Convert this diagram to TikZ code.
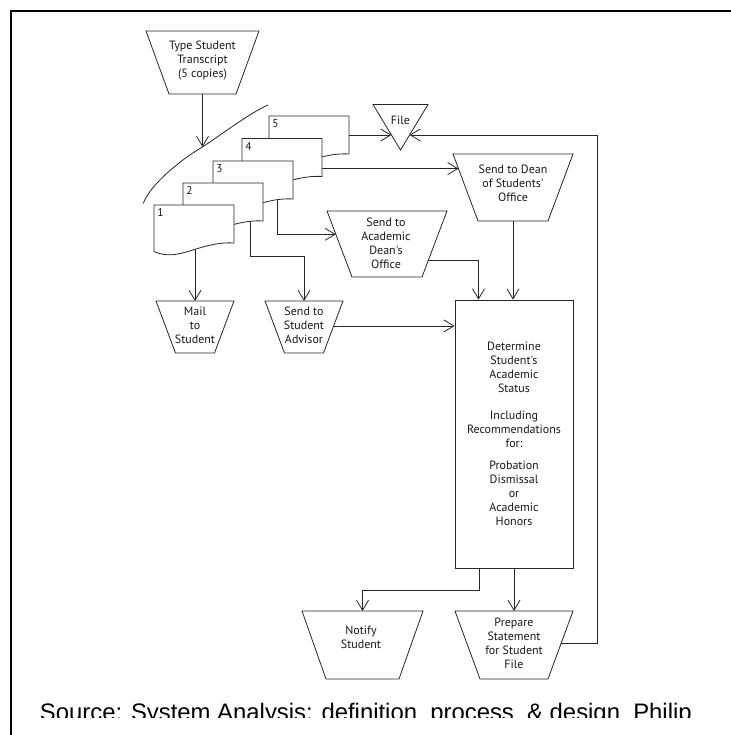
\documentclass[tikz,border=0pt]{standalone}
\usepackage{fontspec}
\newfontfamily\dfont{PT Sans}
\newfontfamily\capfont{Liberation Sans}
\usetikzlibrary{arrows.meta,calc}

\tikzset{
  ln/.style={line width=0.6pt, draw=black!85},
  arr/.style={ln, -{Straight Barb[length=7.5pt,width=9pt]}},
  shp/.style={ln, fill=white},
  lbl/.style={font=\dfont\fontsize{9}{10.5}\selectfont, text=black!90, align=center, inner sep=0pt},
  num/.style={font=\dfont\fontsize{8.5}{10}\selectfont, text=black!90, inner sep=0pt},
}

% trapezoid: name, top-left x, top-right x, top y, bottom y, inset
\newcommand\trapz[6]{%
  \coordinate (#1-tl) at (#2,#4);
  \coordinate (#1-tr) at (#3,#4);
  \coordinate (#1-br) at ({#3-#6},#5);
  \coordinate (#1-bl) at ({#2+#6},#5);
  \coordinate (#1-t) at ({(#2+#3)/2},#4);
  \coordinate (#1-b) at ({(#2+#3)/2},#5);
  \draw[shp] (#1-tl) -- (#1-tr) -- (#1-br) -- (#1-bl) -- cycle;
}

% document sheet: name, left x, top y, number
\newcommand\docu[4]{%
  \coordinate (#1-tl) at (#2,#3);
  \coordinate (#1-tr) at ({#2+80},#3);
  \coordinate (#1-br) at ({#2+80},{#3+38});
  \coordinate (#1-bl) at (#2,{#3+46.5});
  \draw[shp] (#1-tl) -- (#1-tr) -- (#1-br) .. controls ({#2+45},{#3+36}) and ({#2+25},{#3+58}) .. (#1-bl) -- cycle;
  \node[num] (#1-n) at ({#2+6.5},{#3+7.5}) {#4};
}

\begin{document}
\begin{tikzpicture}[x=0.75pt,y=-0.75pt]
\useasboundingbox (0,0) rectangle (731,735);
\fill[white] (0,0) rectangle (731,735);

% frame
\draw[line width=1.5pt] (731,11) -- (11,11) -- (11,735);

% trapezoid shapes
\trapz{type}{146}{259}{31}{94}{23}
\trapz{mail}{156}{234}{301}{353}{19.5}
\trapz{adv}{265}{343}{301}{353}{19.5}
\trapz{acad}{327}{447}{211}{277}{25}
\trapz{dean}{453}{573}{154}{221}{25}
\trapz{notify}{302}{423}{611}{679}{24}
\trapz{prep}{455}{573}{611}{679}{25}

% file triangle
\coordinate (file-tl) at (373,104.5);
\coordinate (file-tr) at (428,104.5);
\coordinate (file-b) at (400.5,150);
\draw[shp] (file-tl) -- (file-tr) -- (file-b) -- cycle;
\coordinate (file-lin) at ($(file-tl)!0.67!(file-b)$);
\coordinate (file-rin) at ($(file-tr)!0.67!(file-b)$);

% texts
\node[lbl] (type) at (202.5,60.5) {Type Student\\Transcript\\(5 copies)};
\node[lbl] (mail) at (195,325.5) {Mail\\to\\Student};
\node[lbl] (adv) at (304,325.5) {Send to\\Student\\Advisor};
\node[lbl] (acad) at (386,243.5) {Send to\\Academic\\Dean's\\Office};
\node[lbl] (dean) at (513,183) {Send to Dean\\of Students'\\Office};
\node[lbl] (file) at (400.5,120) {File};
\node[lbl] (notify) at (361,637.5) {Notify\\Student};
\node[lbl] (prep) at (514,643) {Prepare\\Statement\\for Student\\File};

% decision box
\node[lbl, ln, draw, minimum width=88.5pt, minimum height=201pt] (det) at (514,434)
  {Determine\\Student's\\Academic\\Status\\[9.75pt]Including\\Recommendations\\for:\\[6pt]Probation\\Dismissal\\or\\Academic\\Honors};

% cut line of the copies
\coordinate (cut-a) at (143.3,203.3);
\coordinate (cut) at (202.5,147);
\coordinate (cut-b) at (268,105);
\draw[ln] (cut-a) .. controls (150,185) and (180,160) .. (cut) .. controls (225,132) and (250,113) .. (cut-b);

% outputs of the copies
\coordinate (d1-out) at (195,235);
\coordinate (d2-out) at (250,213);
\coordinate (d3-out) at (277,191);
\coordinate (d4-out) at (322,168.6);
\coordinate (d5-out) at (349,135);

% entry points on slanted edges
\coordinate (dean-in) at ($(dean-tl)!0.218!(dean-bl)$);
\coordinate (acad-in) at ($(acad-tl)!0.353!(acad-bl)$);
\coordinate (acad-out) at ($(acad-tr)!0.75!(acad-br)$);
\coordinate (adv-out) at ($(adv-tr)!0.48!(adv-br)$);
\coordinate (prep-out) at ($(prep-tr)!0.47!(prep-br)$);

% connectors
\draw[arr] (type-b) -- (cut);
\draw[arr] (d5-out) -- (d5-out -| file-lin);
\draw[arr] (d4-out) -- (d4-out -| dean-in);
\draw[arr] (d3-out) |- (acad-in);
\draw[arr] (d2-out) -- ++(0,43) -| (adv-t);
\draw[arr] (d1-out) -- (mail-t);
\draw[arr] (acad-out) -| ($(det.north)+(-35.5,0)$);
\draw[arr] (dean-b) -- (dean-b |- det.north);
\draw[arr] (adv-out) -- (adv-out -| det.west);
\draw[arr] ($(det.south)+(-35,0)$) -- ++(0,22) -| (notify-t);
\draw[arr] (det.south -| prep-t) -- (prep-t);
\draw[arr] (prep-out) -- ++(35.75,0) |- (file-rin);

% the five copies
\docu{d5}{269}{116}{5}
\docu{d4}{242}{138.5}{4}
\docu{d3}{213}{161}{3}
\docu{d2}{183}{183}{2}
\docu{d1}{154}{205}{1}

% caption (clipped at the bottom as in the source)
\begin{scope}
\clip (13,690) rectangle (731,717.3);
\node[font=\capfont\fontsize{17.9}{20}\selectfont, anchor=base west, inner sep=0pt] (src) at (39.7,720)
  {Source: System Analysis: definition\ \ process\ \ \& design\ \ Philip};
\end{scope}
\end{tikzpicture}
\end{document}
